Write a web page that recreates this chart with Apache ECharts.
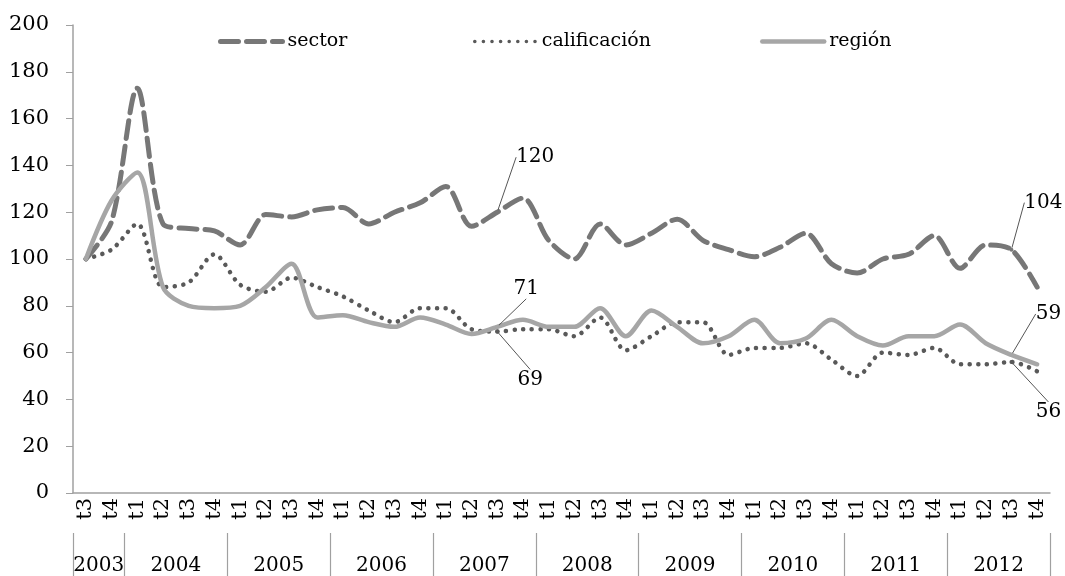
<!DOCTYPE html>
<html>
<head>
<meta charset="utf-8">
<script src="https://cdn.jsdelivr.net/npm/echarts@6/dist/echarts.min.js"></script>
<style>
  html, body { margin: 0; padding: 0; background: #fff; }
  #chart { width: 1065px; height: 576px; }
</style>
</head>
<body>
<div id="chart"></div>
<script>
// periodos (trimestres) y años
const quarters = ['t3', 't4',
  't1', 't2', 't3', 't4', 't1', 't2', 't3', 't4', 't1', 't2', 't3', 't4',
  't1', 't2', 't3', 't4', 't1', 't2', 't3', 't4', 't1', 't2', 't3', 't4',
  't1', 't2', 't3', 't4', 't1', 't2', 't3', 't4', 't1', 't2', 't3', 't4'];
const years = ['2003', '2004', '2005', '2006', '2007', '2008', '2009', '2010', '2011', '2012'];
const quartersPerYear = [2, 4, 4, 4, 4, 4, 4, 4, 4, 4];

// series
const sector = [100, 116, 173, 115, 113, 112, 106, 119, 118, 121,
  122, 115, 120, 124, 131, 114, 120, 126, 108, 100,
  115, 106, 111, 117, 108, 104, 101, 105, 111, 98,
  94, 100, 102, 110, 96, 106, 104, 88];
const calificacion = [100, 104, 115, 88, 90, 102, 89, 86, 92, 88,
  84, 78, 73, 79, 79, 70, 69, 70, 70, 67,
  75, 61, 67, 73, 73, 59, 62, 62, 64, 57,
  50, 60, 59, 62, 55, 55, 56, 52];
const region = [100, 125, 137, 88, 80, 79, 80, 88, 98, 75,
  76, 73, 71, 75, 72, 68, 71, 74, 71, 71,
  79, 67, 78, 71, 64, 67, 74, 64, 66, 74,
  67, 63, 67, 67, 72, 64, 59, 55];

// puntos con etiqueta: [serie, indice, dx, dy]
const labelled = [
  ['sector', 16, 38, -38],
  ['sector', 36, 32, -30],
  ['calificación', 16, 33, 65],
  ['calificación', 36, 37, 67],
  ['región', 16, 29, -21],
  ['región', 36, 37, -24]
];

// limites y centros de los años sobre un eje 0..38
const yearBounds = [0];
const yearCenters = [];
quartersPerYear.forEach(n => {
  const start = yearBounds[yearBounds.length - 1];
  yearCenters.push(start + n / 2);
  yearBounds.push(start + n);
});

const font = 'DejaVu Serif';

function withLabels(name, values) {
  return values.map((v, i) => {
    const hit = labelled.find(l => l[0] === name && l[1] === i);
    if (!hit) return v;
    return {
      value: v,
      symbol: 'circle',
      symbolSize: 4,
      label: { show: true }
    };
  });
}

function layoutFor(name) {
  return function (params) {
    const hit = labelled.find(l => l[0] === name && l[1] === params.dataIndex);
    if (!hit) return {};
    return { dx: hit[2], dy: hit[3] };
  };
}

const labelStyle = {
  position: 'top',
  color: '#000',
  fontFamily: font,
  fontSize: 20
};

function legendAt(name, left, lineWidth) {
  return {
    top: 27,
    left: left,
    itemWidth: 62,
    itemHeight: 14,
    itemStyle: { opacity: 0, borderWidth: 0 },
    lineStyle: { width: lineWidth },
    textStyle: { fontFamily: font, fontSize: 19, color: '#000' },
    data: [name]
  };
}

var myChart = echarts.init(document.getElementById('chart'));
myChart.setOption({
  animation: false,
  grid: { left: 73, right: 15, top: 25, bottom: 83 },
  legend: [
    legendAt('sector', 213, 5),
    legendAt('calificación', 468, 3.5),
    legendAt('región', 755, 4.5)
  ],
  xAxis: [
    {
      type: 'category',
      data: quarters,
      boundaryGap: true,
      axisLine: { lineStyle: { color: '#a0a0a0', width: 1.5 } },
      axisTick: { interval: 0, length: 40, lineStyle: { color: '#a0a0a0', width: 1.2 } },
      axisLabel: {
        interval: 0,
        rotate: 90,
        margin: 5,
        color: '#000',
        fontFamily: font,
        fontSize: 21
      }
    },
    {
      type: 'value',
      position: 'bottom',
      offset: 40,
      min: 0,
      max: quarters.length,
      axisLine: { show: false },
      splitLine: { show: false },
      axisTick: {
        show: true,
        customValues: yearBounds,
        length: 45,
        lineStyle: { color: '#a0a0a0', width: 1.2 }
      },
      axisLabel: {
        customValues: yearCenters,
        margin: 23,
        color: '#000',
        fontFamily: font,
        fontSize: 20,
        formatter: v => years[yearCenters.indexOf(v)]
      }
    }
  ],
  yAxis: {
    type: 'value',
    min: 0,
    max: 200,
    interval: 20,
    axisLine: { show: true, lineStyle: { color: '#a0a0a0', width: 1.5 } },
    axisTick: { show: true, length: 7, lineStyle: { color: '#a0a0a0' } },
    splitLine: { show: false },
    axisLabel: { margin: 24, color: '#000', fontFamily: font, fontSize: 21 }
  },
  series: [
    {
      name: 'sector',
      type: 'line',
      smooth: 0.3,
      symbol: 'none',
      data: withLabels('sector', sector),
      itemStyle: { color: '#777777' },
      lineStyle: { color: '#777777', width: 5, type: [18, 8], cap: 'round' },
      label: labelStyle,
      labelLine: { show: true, lineStyle: { color: '#555', width: 1 } },
      labelLayout: layoutFor('sector')
    },
    {
      name: 'calificación',
      type: 'line',
      smooth: 0.3,
      symbol: 'none',
      data: withLabels('calificación', calificacion),
      itemStyle: { color: '#595959' },
      lineStyle: { color: '#595959', width: 4.5, type: [0.1, 8.5], cap: 'round' },
      label: labelStyle,
      labelLine: { show: true, lineStyle: { color: '#555', width: 1 } },
      labelLayout: layoutFor('calificación')
    },
    {
      name: 'región',
      type: 'line',
      smooth: 0.3,
      symbol: 'none',
      data: withLabels('región', region),
      itemStyle: { color: '#a6a6a6' },
      lineStyle: { color: '#a6a6a6', width: 4.5, cap: 'round' },
      label: labelStyle,
      labelLine: { show: true, lineStyle: { color: '#555', width: 1 } },
      labelLayout: layoutFor('región')
    }
  ]
});
</script>
</body>
</html>
